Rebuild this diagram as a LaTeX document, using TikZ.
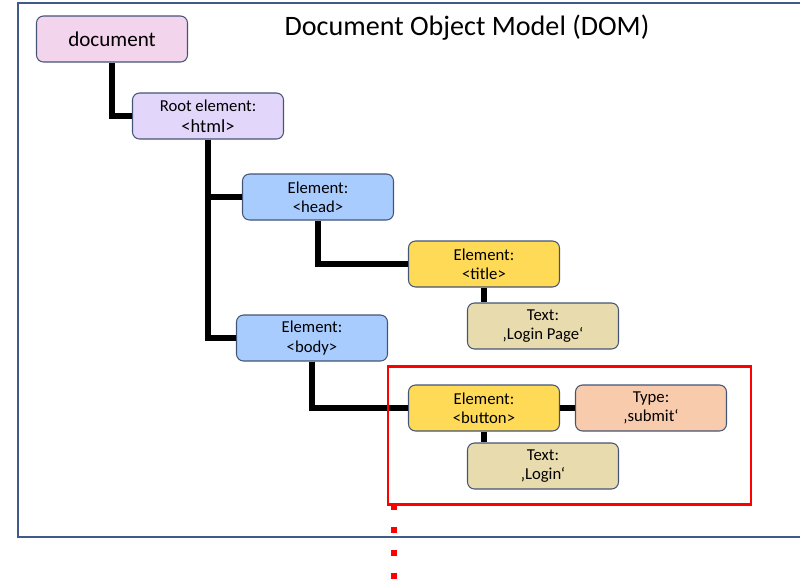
\documentclass[tikz,border=0pt]{standalone}
\usepackage{fontspec}
\setmainfont{Carlito}
\usepackage{tikz}
\usetikzlibrary{positioning}
\usepackage{xcolor}
\definecolor{boxline}{RGB}{68,84,116}
\definecolor{frameline}{RGB}{64,90,140}
\definecolor{docpink}{RGB}{243,212,237}
\definecolor{rootlav}{RGB}{226,214,250}
\definecolor{elemblue}{RGB}{169,204,255}
\definecolor{elemgold}{RGB}{255,218,87}
\definecolor{texttan}{RGB}{232,219,174}
\definecolor{attrpeach}{RGB}{248,203,173}
\tikzset{
  nd/.style={rectangle, draw=boxline, line width=0.6pt,
    rounded corners=4pt, minimum width=3.02cm, minimum height=0.92cm,
    align=center, inner sep=1pt,
    font=\fontsize{9.5}{11}\selectfont},
  ndDoc/.style={nd, fill=docpink, font=\fontsize{12}{14}\selectfont},
  ndRoot/.style={nd, fill=rootlav},
  ndB/.style={nd, fill=elemblue},
  ndY/.style={nd, fill=elemgold},
  ndT/.style={nd, fill=texttan},
  ndA/.style={nd, fill=attrpeach},
  lnk/.style={draw=black, line width=3.4pt},
}

\begin{document}
\begin{tikzpicture}[x=0.2mm, y=-0.2mm]
  \useasboundingbox (0,0) rectangle (800,579);

  % Outer frame (open on the right)
  \draw[frameline, line width=0.8pt] (800,3) -- (18,3) -- (18,537) -- (800,537);
  \node[font=\fontsize{16}{19}\selectfont] (title) at (467,28)
       {Document Object Model (DOM)};

  % Tree nodes
  \node[ndDoc]  (doc)    at (112,39)  {document};
  \node[ndRoot] (html)   at (208,116)
       {Root element:\\[1pt]{\fontsize{10.5}{12}\selectfont <html>}};
  \node[ndB]    (head)   at (318,197) {Element:\\<head>};
  \node[ndY]    (ttl)    at (484,264) {Element:\\<title>};
  \node[ndT]    (ttltxt) at (543,326) {Text:\\‚Login Page‘};
  \node[ndB]    (body)   at (312,338) {Element:\\<body>};
  \node[ndY]    (btn)    at (484,408) {Element:\\<button>};
  \node[ndA]    (btntyp) at (651,408) {Type:\\‚submit‘};
  \node[ndT]    (btntxt) at (543,466) {Text:\\‚Login‘};

  % Connectors
  \draw[lnk] (doc.south) |- (html.west);
  \draw[lnk] (html.south) |- (head.west);
  \draw[lnk] (html.south) |- (body.west);
  \draw[lnk] (head.south) |- (ttl.west);
  \draw[lnk] (ttl.south) -- (ttl.south |- ttltxt.north);
  \draw[lnk] (body.south) |- (btn.west);
  \draw[lnk] (btn.east) -- (btntyp.west);
  \draw[lnk] (btn.south) -- (btn.south |- btntxt.north);

  % Highlighted button subtree
  \draw[red, line width=1.7pt] (388,366) rectangle (751,504);
  \coordinate (cut) at (394,504);
  \coordinate (cutend) at (394,579);
  \draw[red, line width=3.4pt, dash pattern=on 3.4pt off 9.6pt] (cut) -- (cutend);
\end{tikzpicture}
\end{document}
